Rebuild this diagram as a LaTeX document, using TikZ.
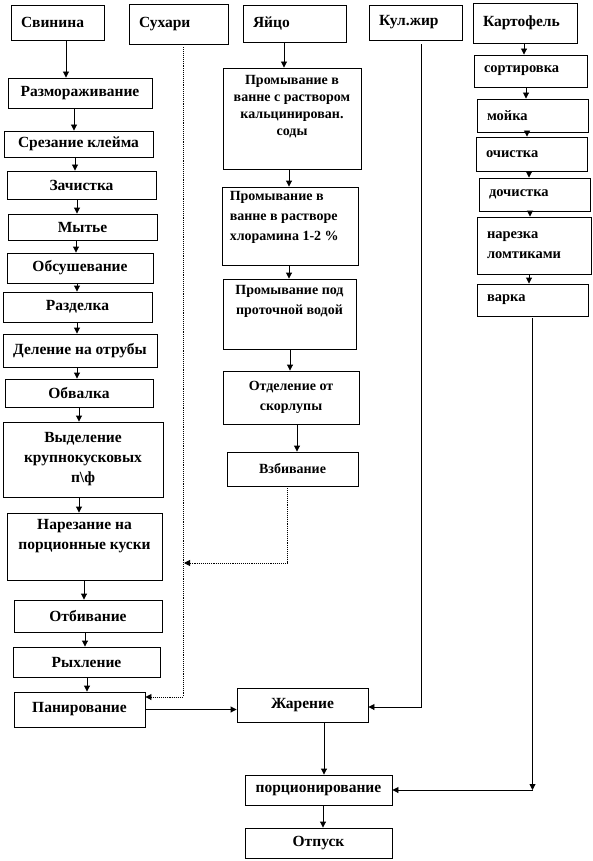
\documentclass[tikz,border=0pt]{standalone}
\usepackage{fontspec}
\setmainfont{Liberation Serif}
\usetikzlibrary{arrows.meta,positioning}
\tikzset{
  stage/.style={draw=black, line width=0.9pt, inner sep=2pt, align=center, font=\bfseries\fontsize{15.5}{20}\selectfont},
  srcbox/.style={stage, align=left, inner xsep=10pt},
  potbox/.style={stage, align=left, inner xsep=10pt, font=\bfseries\fontsize{14.5}{20}\selectfont},
  eggfont/.style={font=\bfseries\fontsize{14}{20}\selectfont},
  boxtext/.style={inner sep=2pt, align=center, font=\bfseries\fontsize{15.5}{20}\selectfont},
  arr/.style={-{Triangle[width=6pt,length=6pt]}, line width=0.9pt},
}
\begin{document}
\begin{tikzpicture}[x=1pt,y=-1pt]
  \path[use as bounding box, fill=white] (0,0) rectangle (593,861);
  % сырьё
  \node[srcbox, text width=73pt, minimum height=35pt] (svin) at (57.5,22.5) {Свинина};
  \node[srcbox, text width=79pt, minimum height=40pt] (suh) at (178.5,24) {Сухари};
  \node[srcbox, text width=83pt, minimum height=37pt] (egg) at (294.5,23.5) {Яйцо};
  \node[srcbox, text width=73pt, minimum height=35pt] (kul) at (415.5,22.5) {Кул.жир};
  \node[srcbox, text width=84pt, minimum height=40pt] (kart) at (525,23) {Картофель};
  % свинина
  \node[stage, minimum width=144pt, minimum height=30pt] (raz) at (80,93) {Размораживание};
  \node[stage, minimum width=149pt, minimum height=26pt] (srez) at (78.5,144) {Срезание клейма};
  \node[stage, minimum width=149pt, minimum height=28pt] (zach) at (81.5,185) {Зачистка};
  \node[stage, minimum width=149pt, minimum height=26pt] (myt) at (82.5,227) {Мытье};
  \node[stage, minimum width=146pt, minimum height=30pt] (obs) at (80,268) {Обсушевание};
  \node[stage, minimum width=149pt, minimum height=30pt] (razd) at (77.5,307) {Разделка};
  \node[stage, minimum width=154pt, minimum height=33pt] (del) at (80,350.5) {Деление на отрубы};
  \node[stage, minimum width=148pt, minimum height=28pt] (obv) at (79,393) {Обвалка};
  \node[stage, minimum width=160pt, minimum height=75pt] (vyd) at (83,459.5) {Выделение\\крупнокусковых\\п\textbackslash ф};
  \node[stage, minimum width=155pt, minimum height=67pt] (narez) at (84.5,546.5) {};
  \node[boxtext, below=5pt of narez.north] (nareztxt) {Нарезание на\\порционные куски};
  \node[stage, minimum width=148pt, minimum height=32pt] (otb) at (88,616) {Отбивание};
  \node[stage, minimum width=147pt, minimum height=30pt] (ryh) at (86.5,662) {Рыхление};
  \node[stage, minimum width=131pt, minimum height=35pt] (pan) at (79.5,709.5) {Панирование};
  % яйцо
  \node[stage, minimum width=138pt, minimum height=101pt] (egga) at (292,118.5) {};
  \node[boxtext, font=\bfseries\fontsize{14}{17}\selectfont, below=6pt of egga.north] (eggatxt) {Промывание в\\ванне с раствором\\кальцинирован.\\соды};
  \node[stage, minimum width=136pt, minimum height=78pt] (eggb) at (290,226) {};
  \node[boxtext, eggfont, align=left, below right=3pt and 6pt of eggb.north west] (eggbtxt) {Промывание в\\ванне в растворе\\хлорамина 1-2 \%};
  \node[stage, minimum width=133pt, minimum height=70pt] (eggc) at (289.5,314) {};
  \node[boxtext, eggfont, below=5pt of eggc.north] (eggctxt) {Промывание под\\проточной водой};
  \node[stage, eggfont, minimum width=136pt, minimum height=53pt] (eggd) at (291,397.5) {Отделение от\\скорлупы};
  \node[stage, eggfont, minimum width=131pt, minimum height=34pt] (vzb) at (292.5,469) {Взбивание};
  % картофель
  \node[potbox, text width=93pt, minimum height=32pt] (sort) at (530.5,71) {сортировка};
  \node[potbox, text width=91pt, minimum height=33pt] (moy) at (532.5,115.5) {мойка};
  \node[potbox, text width=91pt, minimum height=34pt] (och) at (531.5,154) {очистка};
  \node[potbox, text width=91pt, minimum height=33pt] (doch) at (534.5,194.5) {дочистка};
  \node[potbox, text width=94pt, minimum height=57pt] (nar) at (534,245.5) {нарезка\\ломтиками};
  \node[potbox, text width=91pt, minimum height=32pt] (var) at (532.5,300) {варка};
  % итог
  \node[stage, minimum width=131pt, minimum height=34pt] (zhar) at (302.5,705) {Жарение};
  \node[stage, minimum width=147pt, minimum height=30pt] (por) at (318.5,790) {порционирование};
  \node[stage, minimum width=147pt, minimum height=30pt] (otp) at (318.5,843) {Отпуск};
  \coordinate (vzbjoin) at (184,563);

  \foreach \a/\b/\x in {svin/raz/66, raz/srez/74, srez/zach/75, zach/myt/77, myt/obs/76,
      obs/razd/77, razd/del/77, del/obv/77, obv/vyd/79, vyd/narez/79, narez/otb/84,
      otb/ryh/85, ryh/pan/87, egg/egga/284, egga/eggb/289, eggb/eggc/289, eggc/eggd/290,
      eggd/vzb/297, kart/sort/524, sort/moy/526, moy/och/527, och/doch/529, doch/nar/530,
      nar/var/529, zhar/por/324, por/otp/323}
    \draw[arr] (\x,0 |- \a.south) -- (\x,0 |- \b.north);

  \draw[arr, densely dotted, shorten <=3pt] ([xshift=4.5pt]suh.south) |- ([yshift=12.5pt]pan.east);
  \draw[arr, densely dotted] ([xshift=-5.5pt]vzb.south) |- (vzbjoin);
  \draw[arr, shorten <=4pt] ([xshift=5.5pt]kul.south) |- ([yshift=-2pt]zhar.east);
  \draw[arr] (pan.east) -- (pan.east -| zhar.west);
  \draw[arr, shorten <=2pt] (var.south) -- (var.south |- por.east) coordinate (potcorner);
  \draw[arr] (potcorner) -- (por.east);
\end{tikzpicture}
\end{document}
